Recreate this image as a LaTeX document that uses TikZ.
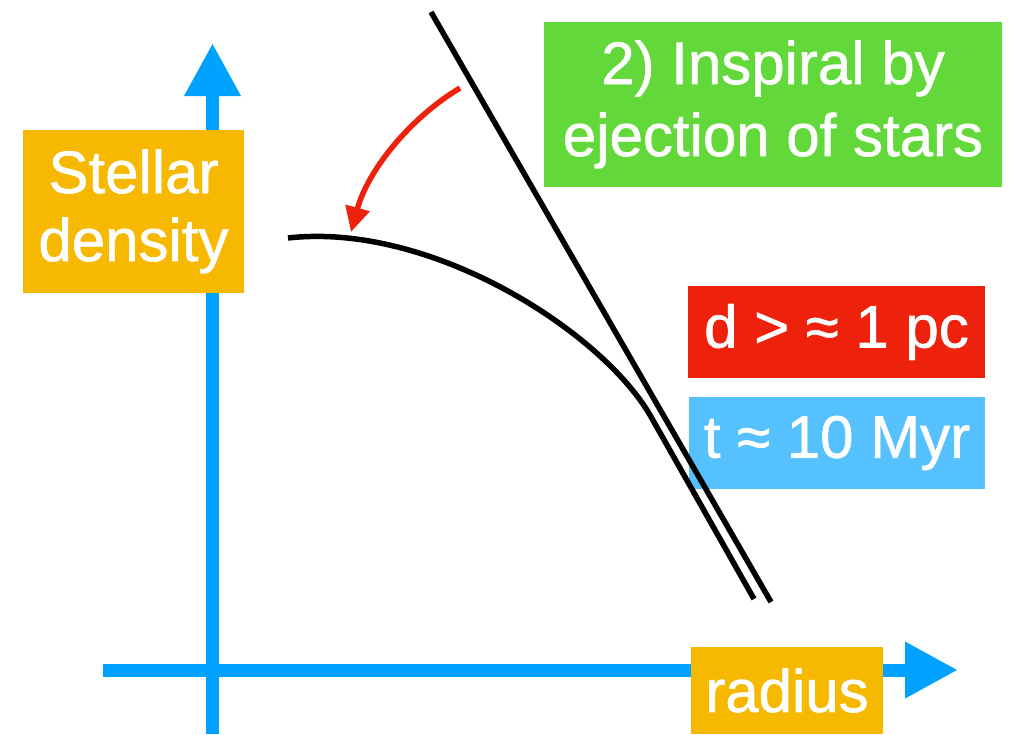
\documentclass[tikz,border=0pt]{standalone}
\usepackage{fontspec}
\setmainfont[FakeBold=1]{Liberation Sans}
\usetikzlibrary{arrows.meta}

\definecolor{axisblue}{HTML}{00A2FF}
\definecolor{boxorange}{HTML}{F6B900}
\definecolor{boxgreen}{HTML}{63D83A}
\definecolor{boxred}{HTML}{EE220C}
\definecolor{boxblue}{HTML}{56C1FF}

\begin{document}
\begin{tikzpicture}[x=1pt, y=-1pt,
    axis/.style={axisblue, line width=13pt, -{Triangle[length=53pt, width=53pt]}},
    labelbox/.style={fill=#1, text=white, align=center, inner sep=0pt,
        font=\fontsize{60}{68}\selectfont},
    profile/.style={black, line width=5.5pt}]

    % Cornice della figura
    \useasboundingbox (0,0) rectangle (1017,734);

    % Estremi degli assi
    \coordinate (Ybot) at (212.5, 734);
    \coordinate (Ytop) at (212.5, 43);
    \coordinate (Xleft)  at (103, 670);
    \coordinate (Xright) at (958, 670);

    % Estremi delle curve
    \coordinate (C0) at (288, 238);
    \coordinate (C1) at (650, 415);
    \coordinate (C2) at (754, 599);
    \coordinate (L0) at (431, 12);
    \coordinate (L1) at (771, 602);
    \coordinate (A0) at (460, 88);
    \coordinate (A1) at (351, 232);

    % --- ASSI ---
    \draw[axis] (Ybot) -- (Ytop);
    \draw[axis] (Xleft) -- (Xright);

    % --- ETICHETTE ---
    \node[labelbox=boxorange, minimum width=221pt, minimum height=163pt] (density) at (133.5, 211.5) {Stellar\\density};
    \node[labelbox=boxorange, minimum width=192pt, minimum height=87pt] (radius) at (787, 690.5) {radius};
    \node[labelbox=boxgreen, minimum width=458pt, minimum height=165pt,
        font=\fontsize{60}{72}\selectfont] (inspiral) at (773, 104.5) {2) Inspiral by\\ejection of stars};
    \node[labelbox=boxred, minimum width=297pt, minimum height=92pt] (dist) at (836.5, 332) {d > ≈ 1 pc};
    \node[labelbox=boxblue, minimum width=296pt, minimum height=92pt] (time) at (837, 443) {t ≈ 10 Myr};

    % --- PROFILI DI DENSITA' ---
    \draw[profile] (C0) .. controls (430, 222) and (600, 330) .. (C1) -- (C2);
    \draw[profile] (L0) -- (L1);

    % Freccia rossa
    \draw[boxred, line width=5.5pt, -{Triangle[length=25pt, width=24pt]}]
        (A0) .. controls (410, 118) and (368, 170) .. (A1);

\end{tikzpicture}
\end{document}
